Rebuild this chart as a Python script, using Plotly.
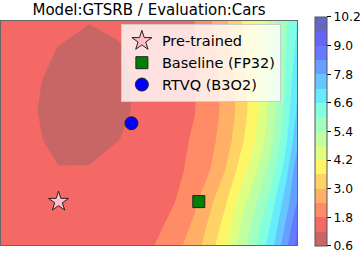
import numpy as np
import plotly.graph_objects as go

# ---- data ----
x_grid = [-0.41, -0.2, 0.0, 0.22, 0.44, 0.65, 0.83, 0.97, 1.08, 1.19, 1.29, 1.4, 1.51, 1.61, 1.7]
y_grid = [-0.31, -0.17, 0.0, 0.22, 0.44, 0.65, 0.86, 1.08, 1.29]
z_grid = [  # rows from bottom (y=-0.31) to top (y=1.29)
    [1.45, 1.45, 1.45, 1.45, 1.50, 1.71, 2.18, 2.72, 3.34, 4.09, 4.98, 5.88, 6.90, 8.06, 9.20],
    [1.45, 1.45, 1.45, 1.45, 1.45, 1.51, 2.03, 2.51, 3.14, 3.84, 4.73, 5.63, 6.60, 7.75, 8.90],
    [1.45, 1.45, 1.42, 1.42, 1.45, 1.50, 1.79, 2.28, 2.86, 3.51, 4.38, 5.28, 6.23, 7.37, 8.40],
    [1.45, 1.45, 1.25, 1.28, 1.40, 1.50, 1.59, 2.05, 2.40, 3.02, 3.78, 4.69, 5.67, 6.79, 8.20],
    [1.45, 1.40, 0.95, 0.85, 1.21, 1.50, 1.60, 1.88, 2.22, 2.68, 3.37, 4.15, 5.19, 6.31, 7.60],
    [1.45, 1.35, 0.75, 0.68, 1.00, 1.55, 1.62, 1.78, 2.14, 2.56, 3.19, 3.97, 4.98, 6.09, 7.27],
    [1.45, 1.45, 0.83, 0.72, 1.03, 1.55, 1.62, 1.77, 2.15, 2.62, 3.24, 4.00, 4.97, 5.93, 7.08],
    [1.45, 1.45, 1.17, 0.95, 1.15, 1.50, 1.60, 1.78, 2.22, 2.76, 3.36, 4.09, 5.02, 5.88, 6.75],
    [1.45, 1.45, 1.36, 1.23, 1.32, 1.55, 1.62, 1.79, 2.33, 2.89, 3.48, 4.25, 5.05, 5.84, 6.60],
]
level_start = 0.6
level_end = 10.2
level_step = 0.6
cbar_ticks = [0.6, 1.8, 3.0, 4.2, 5.4, 6.6, 7.8, 9.0, 10.2]

point_names = ["Pre-trained", "Baseline (FP32)", "RTVQ (B3O2)"]
point_x = [0.0, 1.0, 0.52]
point_y = [0.0, 0.0, 0.56]
point_symbols = ["star", "square", "circle"]
point_colors = ["#ffc0cb", "#008000", "#0000ff"]
point_sizes = [15, 12, 13]

title_text = "Model:GTSRB / Evaluation:Cars"

# ---- styling: jet_r colormap with alpha 0.6 over white ----
def jet(v):
    r = np.interp(v, [0, 0.35, 0.66, 0.89, 1], [0, 0, 1, 1, 0.5])
    g = np.interp(v, [0, 0.125, 0.375, 0.64, 0.91, 1], [0, 0, 1, 1, 0, 0])
    b = np.interp(v, [0, 0.11, 0.34, 0.65, 1], [0.5, 1, 1, 0, 0])
    return r, g, b

alpha = 0.6
n_bands = int(round((level_end - level_start) / level_step))
band_colors = []
for k in range(n_bands):
    v = 1 - (k + 0.5) / n_bands
    r, g, b = jet(v)
    rr, gg, bb = [int(round(255 * (1 - alpha + alpha * c))) for c in (r, g, b)]
    band_colors.append(f"rgb({rr},{gg},{bb})")

# step colorscale robust to plotly's fill colour sampling (17 slots)
m = n_bands + 1
edges = [0.0] + [(k + 0.5) / m for k in range(1, n_bands)] + [1.0]
contour_scale = []
for k in range(n_bands):
    contour_scale.append([edges[k], band_colors[k]])
    contour_scale.append([edges[k + 1], band_colors[k]])

cb_scale = []
for k in range(n_bands):
    cb_scale.append([k / n_bands, band_colors[k]])
    cb_scale.append([(k + 1) / n_bands, band_colors[k]])

FONT = "DejaVu Sans"

fig = go.Figure()
fig.add_trace(go.Contour(
    x=x_grid, y=y_grid, z=z_grid,
    contours=dict(start=level_start, end=level_end, size=level_step,
                  coloring="fill", showlines=False),
    line=dict(width=0, smoothing=0),
    colorscale=contour_scale, zmin=level_start, zmax=level_end,
    showscale=False, hoverinfo="skip",
))

# colorbar
fig.add_trace(go.Scatter(
    x=[None], y=[None], mode="markers", showlegend=False, hoverinfo="skip",
    marker=dict(color=[level_start], colorscale=cb_scale, cmin=level_start, cmax=level_end,
                showscale=True,
                colorbar=dict(thickness=12, thicknessmode="pixels", len=229, lenmode="pixels",
                              x=1.062, xanchor="left", xpad=0, y=1.018, yanchor="top", ypad=0,
                              outlinecolor="#555555", outlinewidth=1,
                              tickvals=cbar_ticks, ticktext=[f"{t:.1f}" for t in cbar_ticks],
                              ticks="outside", ticklen=4, tickcolor="#000000",
                              tickfont=dict(family=FONT, size=12.3, color="#000000"))),
))

for name, px_, py_, sym, col, sz in zip(point_names, point_x, point_y, point_symbols, point_colors, point_sizes):
    fig.add_trace(go.Scatter(
        x=[px_], y=[py_], mode="markers", name=name,
        marker=dict(symbol=sym, size=sz, color=col, line=dict(width=1, color="#222222")),
    ))

fig.update_layout(
    width=363, height=255,
    margin=dict(l=1, r=66, t=21, b=10),
    paper_bgcolor="white", plot_bgcolor="white",
    title=dict(text=title_text, x=0.5, xref="paper", y=1 - 10 / 255, yref="container",
               yanchor="middle", xanchor="center",
               font=dict(family=FONT, size=15, color="#000000")),
    legend=dict(x=0.405, y=0.987, xanchor="left", yanchor="top",
                bgcolor="rgba(255,255,255,0.8)", bordercolor="#cccccc", borderwidth=1,
                font=dict(family=FONT, size=14.5, color="#000000")),
    xaxis=dict(range=[x_grid[0], x_grid[-1]], showticklabels=False, showgrid=False, zeroline=False,
               ticks="", showline=True, mirror=True, linecolor="#666666", linewidth=1),
    yaxis=dict(range=[y_grid[0], y_grid[-1]], showticklabels=False, showgrid=False, zeroline=False,
               ticks="", showline=True, mirror=True, linecolor="#666666", linewidth=1),
)

fig.write_html("out.html", config={"displayModeBar": False},
               post_script="document.body.style.margin='0';document.body.style.padding='0';")
